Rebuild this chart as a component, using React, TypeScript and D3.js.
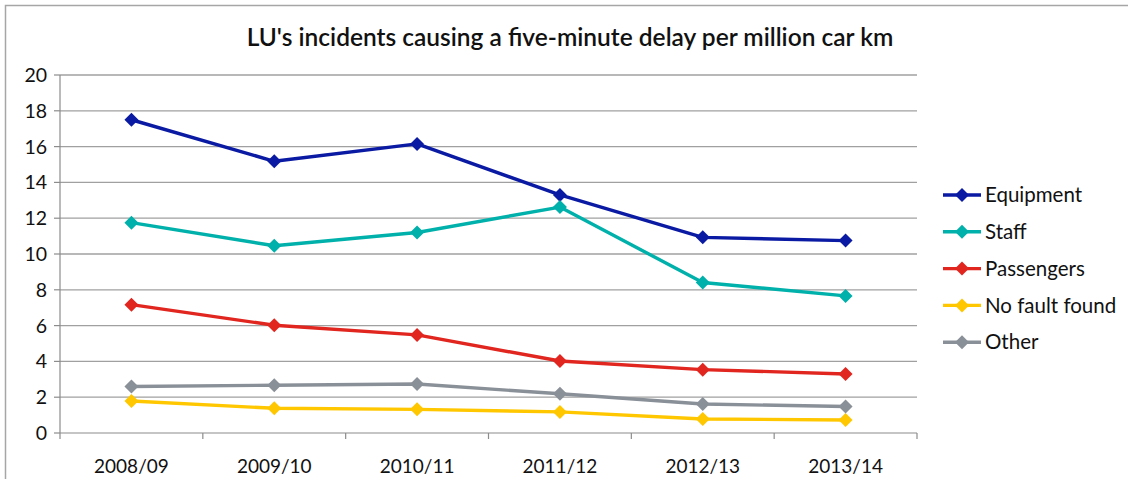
import React from "react";
import * as d3 from "d3";

const categories = ["2008/09", "2009/10", "2010/11", "2011/12", "2012/13", "2013/14"];
const seriesNames = ["Equipment", "Staff", "Passengers", "No fault found", "Other"];
const equipment = [17.5, 15.18, 16.15, 13.3, 10.93, 10.75];
const staff = [11.75, 10.46, 11.2, 12.62, 8.41, 7.66];
const passengers = [7.17, 6.02, 5.48, 4.02, 3.54, 3.3];
const noFaultFound = [1.79, 1.38, 1.32, 1.18, 0.78, 0.73];
const other = [2.6, 2.67, 2.74, 2.19, 1.62, 1.48];
const seriesColors = ["#0A1AA3", "#00B0AA", "#E1251F", "#FFC700", "#8A9098"];
const yTicks = [0, 2, 4, 6, 8, 10, 12, 14, 16, 18, 20];

const W = 1128;
const H = 479;
const plot = { left: 60, right: 917, top: 75, bottom: 433 };
const font = "Lato, 'Open Sans', sans-serif";

export default function App() {
  const allSeries = [equipment, staff, passengers, noFaultFound, other];
  const x = d3
    .scaleBand<string>()
    .domain(categories)
    .range([plot.left, plot.right]);
  const y = d3.scaleLinear().domain([0, 20]).range([plot.bottom, plot.top]);
  const line = d3
    .line<number>()
    .x((_, i) => (x(categories[i]) as number) + x.bandwidth() / 2)
    .y((v) => y(v));
  const diamond = (cx: number, cy: number, r: number) =>
    `M${cx},${cy - r}L${cx + r},${cy}L${cx},${cy + r}L${cx - r},${cy}Z`;

  const legendX = 943;
  const legendY0 = 195;
  const legendStep = 36.8;

  return (
    <svg
      width={W}
      height={H}
      style={{ position: "absolute", left: 0, top: 0, background: "#fff" }}
    >
      <rect x={5.5} y={5.5} width={W + 10} height={H + 10} fill="#fff" stroke="#a6a6a6" strokeWidth={1.5} />
      <text
        x={570}
        y={46}
        textAnchor="middle"
        fontFamily={font}
        fontSize={24.5}
        fontWeight={600}
        fill="#111"
      >
        LU's incidents causing a five-minute delay per million car km
      </text>

      {yTicks.map((t) => (
        <g key={t}>
          {t > 0 && (
            <line x1={plot.left} x2={plot.right} y1={y(t)} y2={y(t)} stroke="#a0a0a0" strokeWidth={1.3} />
          )}
          <line x1={plot.left - 6} x2={plot.left} y1={y(t)} y2={y(t)} stroke="#8c8c8c" strokeWidth={1.2} />
          <text
            x={plot.left - 13}
            y={y(t)}
            dy="0.36em"
            textAnchor="end"
            fontFamily={font}
            fontSize={19.5}
            fill="#111"
          >
            {t}
          </text>
        </g>
      ))}

      <line x1={plot.left} x2={plot.left} y1={plot.top} y2={plot.bottom} stroke="#8c8c8c" strokeWidth={1.2} />
      <line x1={plot.left} x2={plot.right} y1={plot.bottom} y2={plot.bottom} stroke="#8c8c8c" strokeWidth={1.2} />
      {[...categories.map((c) => x(c) as number), plot.right].map((tx, i) => (
        <line key={i} x1={tx} x2={tx} y1={plot.bottom} y2={plot.bottom + 6} stroke="#8c8c8c" strokeWidth={1.2} />
      ))}
      {categories.map((c) => (
        <text
          key={c}
          x={(x(c) as number) + x.bandwidth() / 2}
          y={466}
          dy="0.35em"
          textAnchor="middle"
          fontFamily={font}
          fontSize={19}
          fill="#111"
        >
          {c}
        </text>
      ))}

      {allSeries.map((vals, si) => (
        <g key={seriesNames[si]}>
          <path d={line(vals) as string} fill="none" stroke={seriesColors[si]} strokeWidth={3.4} strokeLinejoin="round" />
          {vals.map((v, i) => (
            <path
              key={i}
              d={diamond((x(categories[i]) as number) + x.bandwidth() / 2, y(v), 7)}
              fill={seriesColors[si]}
            />
          ))}
        </g>
      ))}

      {seriesNames.map((name, si) => {
        const ly = legendY0 + si * legendStep;
        return (
          <g key={name}>
            <line x1={legendX} x2={legendX + 38} y1={ly} y2={ly} stroke={seriesColors[si]} strokeWidth={3.4} />
            <path d={diamond(legendX + 19, ly, 7)} fill={seriesColors[si]} />
            <text x={legendX + 42} y={ly} dy="0.35em" fontFamily={font} fontSize={20.5} fill="#111">
              {name}
            </text>
          </g>
        );
      })}
    </svg>
  );
}
